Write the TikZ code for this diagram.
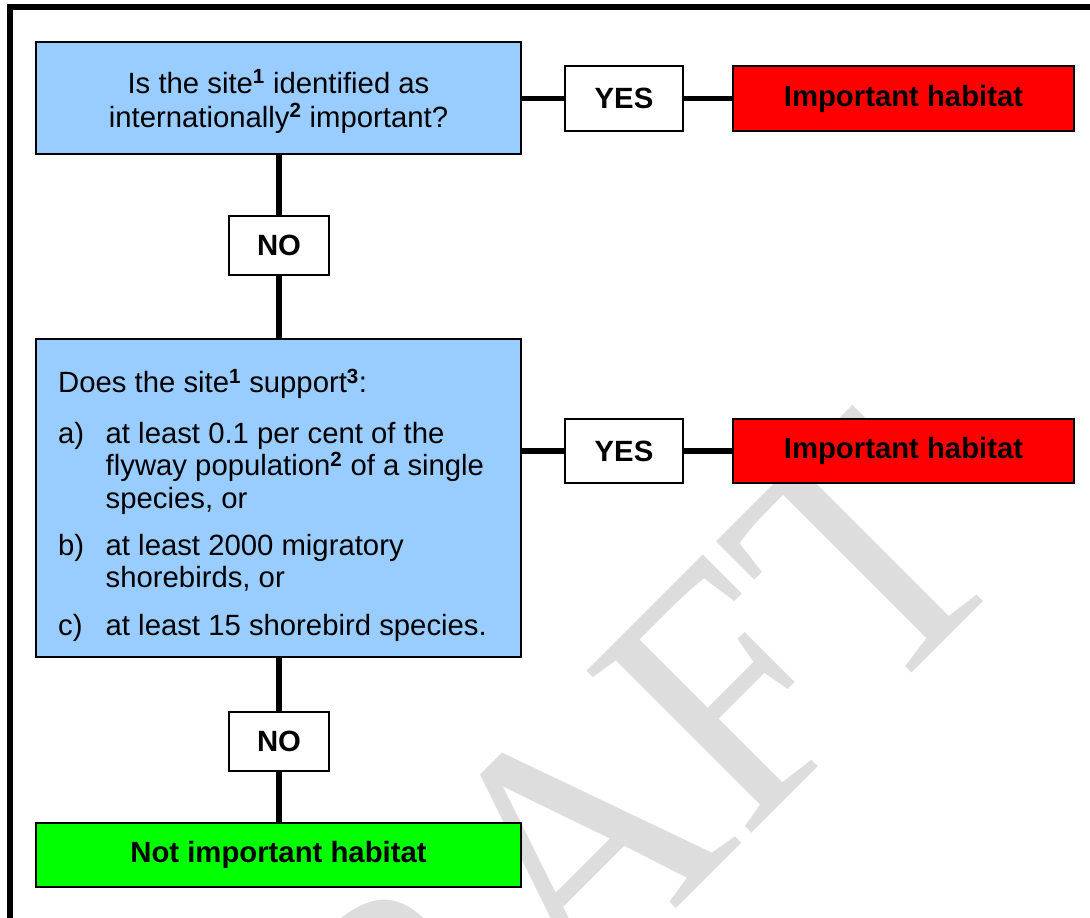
\documentclass[tikz,border=0pt]{standalone}
\usepackage{fontspec}
\setmainfont{Liberation Sans}
\newfontfamily\wmfont{Liberation Serif}
\definecolor{qblue}{HTML}{99CCFF}
\definecolor{wmgray}{HTML}{DDDDDD}
\definecolor{impred}{HTML}{FF0000}
\definecolor{notgreen}{HTML}{00FF00}
\begin{document}
\begin{tikzpicture}[x=1pt,y=-1pt,
  box/.style={draw=black, line width=1.5pt, inner sep=0pt,
    font=\fontsize{29.3}{33}\selectfont\bfseries},
  qbox/.style={box, fill=qblue, minimum width=485pt},
  ansbox/.style={box, fill=white, minimum width=118pt},
  nobox/.style={box, fill=white, minimum width=100pt, minimum height=59pt},
  resbox/.style={box, fill=impred, minimum width=341pt, minimum height=64pt},
  link/.style={line width=5.5pt, draw=black},
  txt/.style={inner sep=0pt, font=\fontsize{29.3}{33}\selectfont},
  wm/.style={inner sep=0pt, text=wmgray, font=\wmfont\fontsize{353}{400}\selectfont}]
\useasboundingbox (0,0) rectangle (1090,918);
% watermark
\begin{scope}
  \clip (0,0) rectangle (1090,918);
  \node[wm, rotate=45, xscale=0.949, anchor=base west] (wmark) at (243.8,1341.2) {DRAFT};
  % outer frame (only top and left edges inside the page)
  \coordinate (frameA) at (9.8,930);
  \coordinate (frameB) at (9.8,7.2);
  \coordinate (frameC) at (1100,7.2);
  \draw[line width=5.6pt, line join=miter] (frameA) -- (frameB) -- (frameC);
\end{scope}

% boxes
\node[qbox, minimum height=112pt] (q1) at (278.5,98) {};
\node[ansbox, minimum height=65pt] (yes1) at (624,98.5) {YES};
\node[resbox, minimum height=65pt] (imp1) at (903.5,98.5) {Important habitat};
\node[nobox] (no1) at (279,245.5) {NO};
\node[qbox, minimum height=318pt] (q2) at (278.5,498) {};
\node[ansbox, minimum height=64pt] (yes2) at (624,451) {YES};
\node[resbox] (imp2) at (903.5,451) {Important habitat};
\node[nobox] (no2) at (279,741.5) {NO};
\node[box, fill=notgreen, minimum width=485pt, minimum height=64pt] (notimp) at (278.5,855) {Not important habitat};

% texts of question boxes
\node[txt, anchor=base] (q1text) at (278.5,93)
  {\parbox[t]{485pt}{\centering\lineskiplimit=-100pt\baselineskip=34pt
   Is the site\textsuperscript{\textbf{1}} identified as\\
   internationally\textsuperscript{\textbf{2}} important?}};
\node[txt, anchor=base west] (q2text) at (58,392.7)
  {\parbox[t]{470pt}{\parindent=0pt\lineskiplimit=-100pt\baselineskip=32.5pt\parskip=14.8pt
   Does the site\textsuperscript{\textbf{1}} support\textsuperscript{\textbf{3}}:\par\vspace{3pt}
   \hangindent=47.5pt\hangafter=1\makebox[47.5pt][l]{a)}at least 0.1 per cent of the\\
   flyway population\textsuperscript{\textbf{2}} of a single\\
   species, or\par
   \hangindent=47.5pt\hangafter=1\makebox[47.5pt][l]{b)}at least 2000 migratory\\
   shorebirds, or\par
   \hangindent=47.5pt\hangafter=1\makebox[47.5pt][l]{c)}at least 15 shorebird species.\par}};

% connectors
\draw[link] (yes1.west -| q1.east) -- (yes1.west);
\draw[link] (yes1.east) -- (imp1.west);
\draw[link] (no1.north |- q1.south) -- (no1.north);
\draw[link] (no1.south) -- (no1.south |- q2.north);
\draw[link] (yes2.west -| q2.east) -- (yes2.west);
\draw[link] (yes2.east) -- (imp2.west);
\draw[link] (no2.north |- q2.south) -- (no2.north);
\draw[link] (no2.south) -- (no2.south |- notimp.north);
\end{tikzpicture}
\end{document}
